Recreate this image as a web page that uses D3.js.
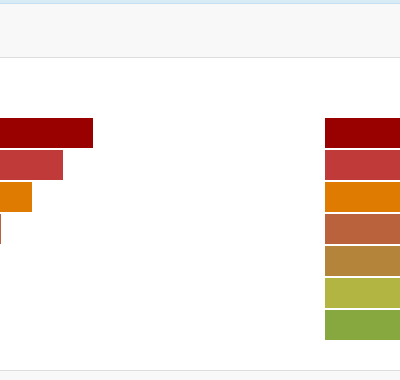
<!DOCTYPE html>
<html>
<head>
<meta charset="utf-8">
<script src="https://cdn.jsdelivr.net/npm/d3@7"></script>
<style>
  html, body { margin: 0; padding: 0; background: #fff; overflow: hidden; }
  svg { display: block; }
</style>
</head>
<body>
<svg id="chart"></svg>
<script>
// categories (7 levels) and their bar values
const categories = ["c1", "c2", "c3", "c4", "c5", "c6", "c7"];
const values = [93, 63, 32, 1, 0, 0, 0];
const colors = ["#990000", "#c03a39", "#df7b00", "#b9623b", "#b5843b", "#b3b542", "#86a83e"];

const width = 400;
const height = 380;

let svg = d3.select("#chart")
  .attr("width", width)
  .attr("height", height);

// page chrome: top strip, header band, footer band
svg.append("rect").attr("x", 0).attr("y", 0).attr("width", width).attr("height", 4).style("fill", "#d6ebf5");
svg.append("rect").attr("x", 0).attr("y", 3).attr("width", width).attr("height", 1).style("fill", "#c4e0ee");
svg.append("rect").attr("x", 0).attr("y", 4).attr("width", width).attr("height", 53).style("fill", "#f8f8f8");
svg.append("rect").attr("x", 0).attr("y", 57).attr("width", width).attr("height", 1).style("fill", "#dddddd");
svg.append("rect").attr("x", 0).attr("y", 370).attr("width", width).attr("height", 1).style("fill", "#dddddd");
svg.append("rect").attr("x", 0).attr("y", 371).attr("width", width).attr("height", 9).style("fill", "#f8f8f8");

// 7 rows, 30px bars on a 32px step
let yScale = d3.scaleBand()
  .domain(categories)
  .range([118, 340])
  .paddingInner(2 / 32)
  .paddingOuter(0);

let xScale = d3.scaleLinear()
  .domain([0, 400])
  .range([0, 400]);

// bars on the left
svg.selectAll("rect.bar")
  .data(categories)
  .enter().append("rect")
  .attr("class", "bar")
  .attr("x", xScale(0))
  .attr("y", (d) => yScale(d))
  .attr("width", (d, i) => xScale(values[i]) - xScale(0))
  .attr("height", yScale.bandwidth())
  .style("fill", (d, i) => colors[i]);

// colour key on the right
svg.selectAll("rect.key")
  .data(categories)
  .enter().append("rect")
  .attr("class", "key")
  .attr("x", 325)
  .attr("y", (d) => yScale(d))
  .attr("width", 75)
  .attr("height", yScale.bandwidth())
  .style("fill", (d, i) => colors[i]);
</script>
</body>
</html>
